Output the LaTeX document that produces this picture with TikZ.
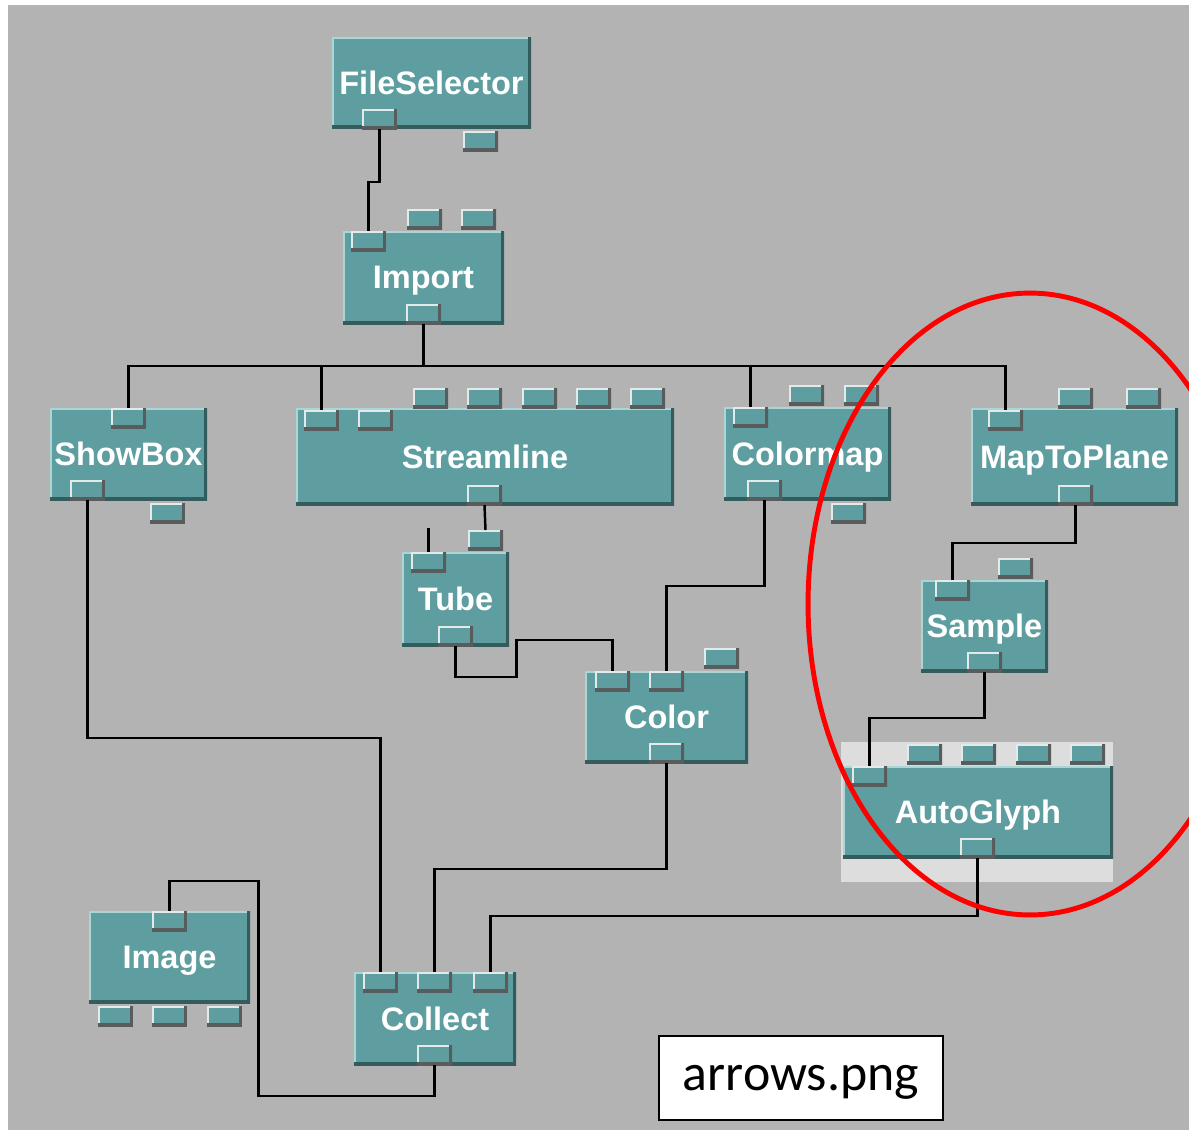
\documentclass[tikz,border=0pt]{standalone}
\usepackage{fontspec}
\usepackage{tikz}
\usetikzlibrary{calc}
\newfontfamily\modfont{Liberation Sans}
\newfontfamily\capfont{Carlito}
\definecolor{bggray}{RGB}{179,179,179}
\definecolor{modteal}{RGB}{95,158,160}
\definecolor{mdLight}{RGB}{172,214,214}
\definecolor{mdDark}{RGB}{52,92,93}
\definecolor{ptLight}{RGB}{226,234,234}
\definecolor{ptDark}{RGB}{88,92,92}
\definecolor{selgray}{RGB}{221,221,221}

\begin{document}
\begin{tikzpicture}[x=0.02cm, y=-0.02cm,
    bevel/.style 2 args={path picture={
      \draw[#1, line width=2.4pt] (path picture bounding box.south west) |- (path picture bounding box.north east);
      \draw[#2, line width=3pt] (path picture bounding box.south west) -| (path picture bounding box.north east);}},
    module/.style 2 args={anchor=north west, inner sep=0pt, outer sep=0pt, fill=modteal,
      minimum width=#1*0.02cm, minimum height=#2*0.02cm, bevel={mdLight}{mdDark},
      text=white, text depth=0pt, font=\modfont\bfseries\fontsize{18.5}{20}\selectfont},
    port/.style={anchor=north west, inner sep=0pt, outer sep=0pt, fill=modteal,
      minimum width=0.7cm, minimum height=0.4cm, bevel={ptLight}{ptDark}},
    wire/.style={line width=1.4pt, black}]

  \useasboundingbox (0,0) rectangle (1189,1130);
  \fill[white] (0,0) rectangle (1189,1130);
  \fill[bggray] (8,5) rectangle (1189,1130);

  % modules
  \node[anchor=north west, inner sep=0pt, fill=selgray, minimum width=5.44cm, minimum height=2.8cm] (agSel) at (841,742) {};
  \node[module={199}{91}] (fs) at (332,37) {FileSelector};
  \node[module={161}{93}] (imp) at (343,231) {Import};
  \node[module={157}{92}] (sb) at (50,408) {ShowBox};
  \node[module={378}{97}] (sl) at (296,408) {Streamline};
  \node[module={167}{93}] (cm) at (724,407) {Colormap};
  \node[module={207}{97}] (mtp) at (971,408) {MapToPlane};
  \node[module={107}{94}] (tb) at (402,552) {Tube};
  \node[module={163}{92}] (co) at (585,671) {Color};
  \node[module={127}{92}] (sa) at (921,580) {Sample};
  \node[module={270}{92}] (ag) at (843,766) {AutoGlyph};
  \node[module={162}{93}] (cl) at (354,972) {Collect};
  \node[module={161}{92}] (im) at (89,911) {Image};

  % ports
  \node[port] (fsOut) at (362,109) {};
  \node[port] (fsPar) at (463,131) {};
  \node[port] (impIn) at (351,231) {};
  \node[port] (impOut) at (406,304) {};
  \foreach \px in {407,461} \node[port] (impPar\px) at (\px,209) {};
  \node[port] (sbIn) at (111,408) {};
  \node[port] (sbOut) at (70,480) {};
  \node[port] (sbPar) at (150,503) {};
  \node[port] (slIn1) at (304,410) {};
  \node[port] (slIn2) at (358,410) {};
  \node[port] (slOut) at (467,485) {};
  \foreach \px in {413,467,522,576,630} \node[port] (slPar\px) at (\px,388) {};
  \node[port] (cmIn) at (733,407) {};
  \node[port] (cmOut) at (747,480) {};
  \node[port] (cmPar) at (831,503) {};
  \foreach \px in {789,844} \node[port] (cmPar\px) at (\px,385) {};
  \node[port] (mtpIn) at (988,410) {};
  \node[port] (mtpOut) at (1058,485) {};
  \foreach \px in {1058,1126} \node[port] (mtpPar\px) at (\px,388) {};
  \node[port] (tbIn) at (411,552) {};
  \node[port] (tbPar) at (468,530) {};
  \node[port] (tbOut) at (438,626) {};
  \node[port] (coIn1) at (595,671) {};
  \node[port] (coIn2) at (649,671) {};
  \node[port] (coPar) at (704,648) {};
  \node[port] (coOut) at (649,743) {};
  \node[port] (saIn) at (935,580) {};
  \node[port] (saPar) at (998,558) {};
  \node[port] (saOut) at (967,652) {};
  \node[port] (agIn) at (852,766) {};
  \node[port] (agOut) at (960,838) {};
  \foreach \px in {907,961,1016,1070} \node[port] (agPar\px) at (\px,744) {};
  \node[port] (clIn1) at (363,972) {};
  \node[port] (clIn2) at (417,972) {};
  \node[port] (clIn3) at (473,972) {};
  \node[port] (clOut) at (417,1045) {};
  \node[port] (imIn) at (152,911) {};
  \foreach \px in {98,152,207} \node[port] (imPar\px) at (\px,1006) {};

  % wires
  \draw[wire] (fsOut.south) -- ++(0,53) -| (impIn.north);
  \draw[wire] (impOut.south) -- ++(0,42) coordinate (bus);
  \draw[wire] (bus) -| (sbIn.north);
  \draw[wire] (bus) -| (slIn1.north);
  \draw[wire] (bus) -| (cmIn.north);
  \draw[wire] (bus) -| (mtpIn.north);
  \draw[wire] (slOut.south) -- (tbPar.north);
  \draw[wire] (tbIn.north) -- ++(0,-24);
  \draw[wire] (tbOut.south) -- ++(0,31) -| ++(61,-37) -| (coIn1.north);
  \draw[wire] (cmOut.south) -- ++(0,86) -| (coIn2.north);
  \draw[wire] (mtpOut.south) -- ++(0,38) -| (saIn.north);
  \draw[wire] (saOut.south) -- ++(0,46) -| (agIn.north);
  \draw[wire] (sbOut.south) -- ++(0,238) -| (clIn1.north);
  \draw[wire] (coOut.south) -- ++(0,106) -| (clIn2.north);
  \draw[wire] (agOut.south) -- ++(0,58) -| (clIn3.north);
  \draw[wire] (clOut.south) -- ++(0,31) -| ++(-176,-215) -| (imIn.north);

  % caption and highlight
  \node[draw=black, line width=1pt, fill=white, anchor=north west, inner sep=0pt,
        minimum width=5.68cm, minimum height=1.68cm, text depth=0pt,
        font=\capfont\fontsize{29.5}{32}\selectfont] (cap) at (658,1035) {arrows.png};
  \begin{scope}
    \clip (8,5) rectangle (1189,1130);
    \draw[red, line width=2.8pt] (1030,604) ellipse [x radius=4.44cm, y radius=6.22cm];
  \end{scope}
\end{tikzpicture}
\end{document}
